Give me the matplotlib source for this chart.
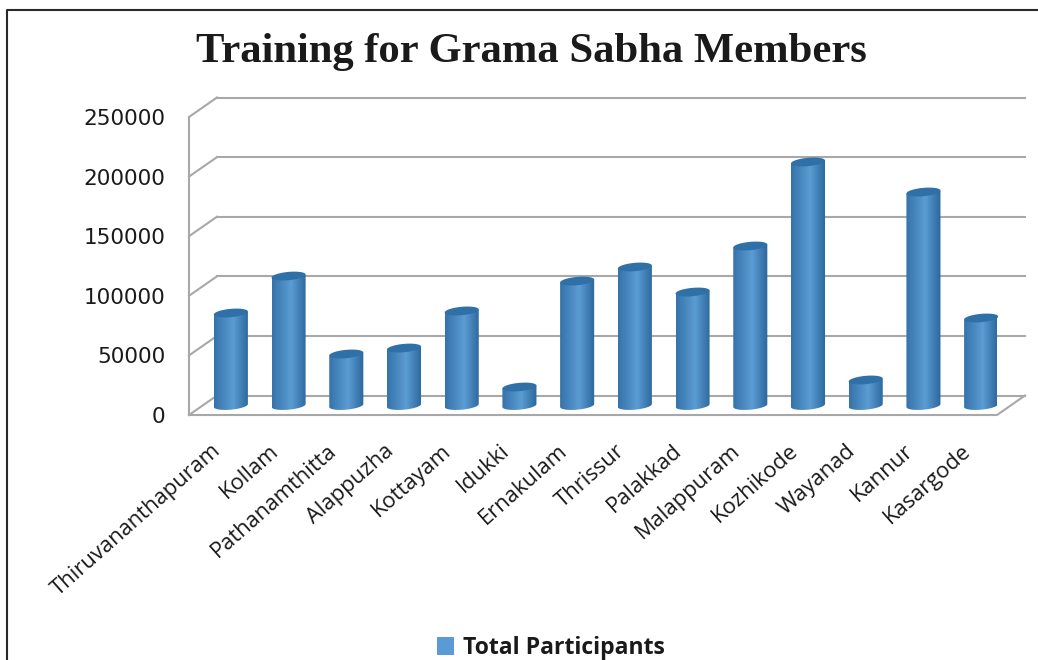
import matplotlib
matplotlib.use("Agg")
import matplotlib.pyplot as plt
from matplotlib.colors import LinearSegmentedColormap
from matplotlib.lines import Line2D
from matplotlib.patches import Patch, PathPatch, Polygon
from matplotlib.path import Path
from matplotlib.transforms import Affine2D
import numpy as np

districts = ['Thiruvananthapuram', 'Kollam', 'Pathanamthitta', 'Alappuzha', 'Kottayam',
             'Idukki', 'Ernakulam', 'Thrissur', 'Palakkad', 'Malappuram', 'Kozhikode',
             'Wayanad', 'Kannur', 'Kasargode']
participants = [77600, 108600, 43200, 48200, 79300, 15500, 104400, 116200, 95200,
                133800, 204300, 21400, 179100, 73400]
y_ticks = [0, 50000, 100000, 150000, 200000, 250000]

W, H = 1038, 660
GREY = '#a8a8a8'
TEXT = '#1a1a1a'
BAR_W = 0.59
CAP_H = 7000
TILT = 2500  # rise of the ellipse across one bar, the original has slanted caps


def ellipse_pts(x, y, t):
    xs = x + BAR_W / 2 * np.cos(t)
    ys = y + CAP_H / 2 * np.sin(t) + TILT * np.cos(t) / 2
    return list(zip(xs, ys))


def cylinder_outline(x, top):
    # lower half of the base ellipse, closed at the top height
    verts = ellipse_pts(x, 0, np.linspace(np.pi, 2 * np.pi, 40))
    verts += ellipse_pts(x, top, np.array([0.0, np.pi]))
    verts.append(verts[0])
    codes = [Path.MOVETO] + [Path.LINETO] * (len(verts) - 2) + [Path.CLOSEPOLY]
    return Path(verts, codes)


def draw_walls(ax):
    fig = ax.figure
    back = fig.transFigure + Affine2D().translate(28, 19.5)
    x0, x1 = ax.get_position().x0, ax.get_position().x1
    to_fig = ax.transData + fig.transFigure.inverted()
    for v in y_ticks:
        y = to_fig.transform((0, v))[1]
        # side wall diagonal and back wall line
        fig.add_artist(Line2D([x0, x0 + 28 / W], [y, y + 19.5 / H], color=GREY, lw=1.5, zorder=1))
        fig.add_artist(Line2D([x0, x1], [y, y], color=GREY, lw=1.5, zorder=1, transform=back))
    y0 = to_fig.transform((0, 0))[1]
    y5 = to_fig.transform((0, y_ticks[-1]))[1]
    fig.add_artist(Line2D([x0, x0], [y0, y5], color=GREY, lw=1.5, zorder=1))
    fig.add_artist(Line2D([x0, x1, x1 + 28 / W], [y0, y0, y0 + 19.5 / H], color=GREY, lw=1.5, zorder=1))


def draw_bars(ax):
    cmap = LinearSegmentedColormap.from_list('cyl', [(0, '#3673aa'), (0.55, '#5b9cd3'), (1, '#2b679c')])
    grad = np.linspace(0, 1, 64).reshape(1, -1)
    offset = ax.transData + Affine2D().translate(13, 9.5)
    for i, val in enumerate(participants):
        im = ax.imshow(grad, extent=[i - BAR_W / 2, i + BAR_W / 2, -2 * CAP_H, val + 2 * CAP_H],
                       cmap=cmap, aspect='auto', transform=offset, zorder=3, interpolation='bilinear')
        clip = PathPatch(cylinder_outline(i, val), transform=offset, facecolor='none', edgecolor='none')
        ax.add_patch(clip)
        im.set_clip_path(clip)
        cap = Polygon(ellipse_pts(i, val, np.linspace(0, 2 * np.pi, 60)), closed=True,
                      facecolor='#2f70a8', edgecolor='none', transform=offset, zorder=4, clip_on=False)
        ax.add_patch(cap)


def main():
    fig = plt.figure(figsize=(W / 100, H / 100), dpi=100, facecolor='white')
    ax = fig.add_axes([189 / W, 1 - 415 / H, 808 / W, 298 / H])
    ax.patch.set_visible(False)
    ax.set_zorder(5)
    for s in ax.spines.values():
        s.set_visible(False)

    draw_bars(ax)
    ax.set_xlim(-0.5, len(districts) - 0.5)
    ax.set_ylim(0, y_ticks[-1])
    draw_walls(ax)

    ax.set_xticks([])
    ax.set_yticks(y_ticks)
    ax.tick_params(axis='y', length=0, pad=17, labelsize=15.5, labelcolor=TEXT)

    for i, name in enumerate(districts):
        ax.annotate(name, (i, 0), xytext=(0, -33), textcoords='offset pixels', rotation=41.5,
                    ha='right', va='center', rotation_mode='anchor', fontsize=15.8,
                    color=TEXT, family='Open Sans', annotation_clip=False)

    fig.text(531 / W, 1 - 52 / H, 'Training for Grama Sabha Members', ha='center', va='center',
             fontsize=30.7, fontweight='bold', family='Liberation Serif', color=TEXT)

    fig.legend(handles=[Patch(facecolor='#5b9bd5', label='Total Participants')],
               loc='center', bbox_to_anchor=(551 / W, 1 - 648 / H), frameon=False, handlelength=0.7,
               handleheight=0.8, handletextpad=0.4, borderpad=0,
               prop={'family': 'Open Sans', 'weight': 'bold', 'size': 16.6}, labelcolor=TEXT)

    # page frame, top and left only
    fig.add_artist(Line2D([7 / W, 7 / W, 1], [0, 1 - 10 / H, 1 - 10 / H], color='#2a2a2a', lw=1.5))

    fig.savefig('out.png', dpi=100)


if __name__ == '__main__':
    main()
